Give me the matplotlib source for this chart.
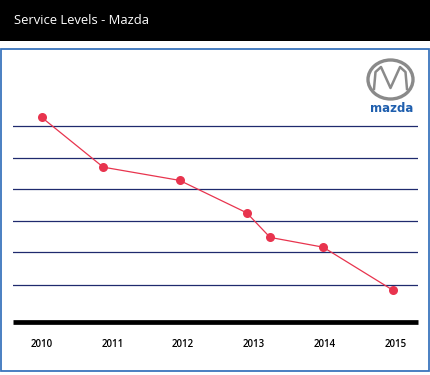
import matplotlib.pyplot as plt
from matplotlib.patches import Rectangle, Ellipse

# data (x in fractional years, y in arbitrary level units)
years = [2010.0, 2010.87, 2011.95, 2012.9, 2013.23, 2013.98, 2014.97]
levels = [64.8, 49.0, 44.8, 34.5, 26.7, 23.6, 9.9]
grid_levels = [11.5, 22.0, 32.0, 42.0, 52.0, 62.0]
tick_years = [2010, 2011, 2012, 2013, 2014, 2015]
tick_labels = ['2010', '2011', '2012', '2013', '2014', '2015']

W, H = 431, 375
fig = plt.figure(figsize=(W / 100, H / 100), dpi=100)

# background layer in pixel coords
bg = fig.add_axes([0, 0, 1, 1])
bg.set_xlim(0, W)
bg.set_ylim(H, 0)
bg.axis('off')
bg.add_patch(Rectangle((0, 0), W, 40.5, color='black', lw=0))
bg.text(14, 20.5, 'Service Levels - Mazda', color='white', fontsize=9.4,
        family=['Open Sans', 'DejaVu Sans'], va='center', ha='left')
bg.add_patch(Rectangle((1.5, 48.5), 427.5, 322.5, fill=False,
                       edgecolor='#3a75bd', lw=1.3))

# logo
bg.add_patch(Ellipse((390.5, 79.5), 45, 39, fill=False, edgecolor='#8a8a8a', lw=2.4))
wing_x = [374, 375.5, 381, 390.5, 400, 405.5, 407]
wing_y = [89, 72, 67, 88, 67, 72, 89]
bg.plot(wing_x, wing_y, color='#8a8a8a', lw=1.8, solid_joinstyle='round')
bg.text(392, 108.5, 'mazda', color='#1f5fae', fontsize=8.5, fontweight='bold',
        family='DejaVu Sans', ha='center', va='center')

# main chart
left, right = 13, 417.7
bottom_px, top_px = 321.5, 100
ax = fig.add_axes([left / W, 1 - bottom_px / H, (right - left) / W, (bottom_px - top_px) / H])
ax.set_facecolor('none')
ax.set_xlim(2009.594, 2015.318)
ax.set_ylim(0, (bottom_px - top_px) / 3.15)
for g in grid_levels:
    ax.axhline(g, color='#1f2a6e', lw=0.9)
ax.axhline(0, color='black', lw=3.4, clip_on=False, solid_capstyle='butt')
ax.plot(years, levels, color='#e8344e', lw=0.9, marker='o', markersize=6.5,
        markeredgewidth=0, zorder=3)
for s in ax.spines.values():
    s.set_visible(False)
ax.set_yticks([])
ax.set_xticks(tick_years)
ax.set_xticklabels(tick_labels, fontsize=7, fontweight='semibold',
                   family=['Open Sans', 'DejaVu Sans'])
ax.tick_params(axis='x', length=0, pad=12.5)

fig.savefig('out.png', dpi=100)
